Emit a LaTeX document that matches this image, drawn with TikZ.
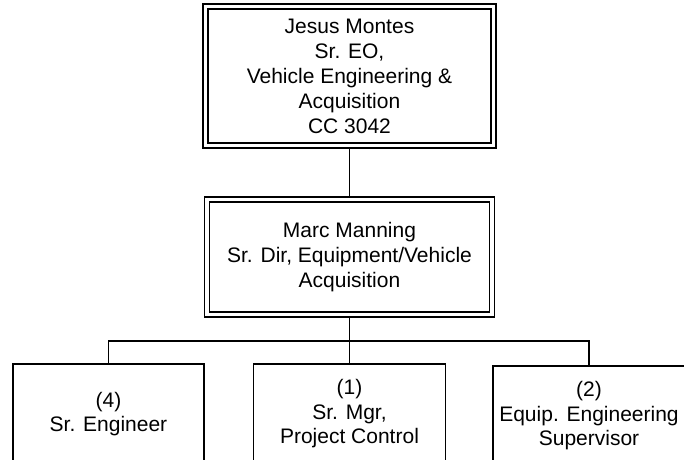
\documentclass[tikz,border=0pt]{standalone}
\usepackage{fontspec}
\setmainfont{Liberation Sans}
\usetikzlibrary{backgrounds}
\begin{document}
\begin{tikzpicture}[x=1pt,y=-1pt,
  dbox/.style={draw, double, line width=1.4pt, double distance=3.6pt, fill=white,
    inner sep=0pt, align=center, font=\fontsize{21}{25}\selectfont},
  sbox/.style={draw, line width=1.6pt, fill=white, inner sep=0pt, align=center,
    minimum height=100pt, font=\fontsize{21}{24.5}\selectfont},
  link/.style={line width=1.6pt}]
\useasboundingbox (0,0) rectangle (684,459);
\clip (0,0) rectangle (684,459);
\node[dbox, minimum width=288pt, minimum height=139pt] (top) at (349.5,76)
  {Jesus Montes\\Sr. EO,\\Vehicle Engineering \&\\Acquisition\\CC 3042};
\node[dbox, minimum width=285pt, minimum height=115pt] (mid) at (349.5,257)
  {Marc Manning\\Sr. Dir, Equipment/Vehicle\\Acquisition};
\node[sbox, minimum width=191pt] (b1) at (108.5,414) {(4)\\Sr. Engineer};
\node[sbox, minimum width=192pt] (b2) at (349.5,414) {(1)\\Sr. Mgr,\\Project Control};
\node[sbox, minimum width=192pt] (b3) at (589,416) {(2)\\Equip. Engineering\\Supervisor};
\coordinate (bus) at (349.5,341);
\begin{scope}[on background layer]
\draw[link] (top.south) -- (mid.north);
\draw[link] (mid.south) -- (bus);
\draw[link] (b1.north) |- (bus) -| (b3.north);
\draw[link] (bus) -- (b2.north);
\end{scope}
\end{tikzpicture}
\end{document}
